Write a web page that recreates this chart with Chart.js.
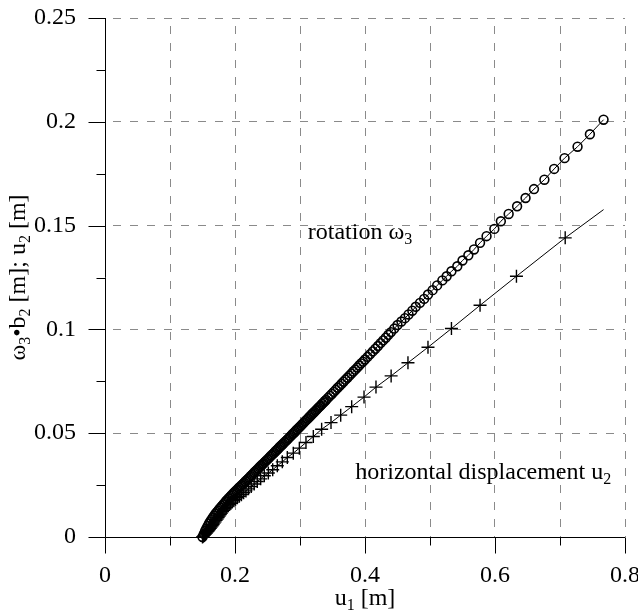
<!DOCTYPE html>
<html>
<head>
<meta charset="utf-8">
<script src="https://cdn.jsdelivr.net/npm/chart.js@4.4.0/dist/chart.umd.min.js"></script>
<style>
  body { margin: 0; background: #fff; }
</style>
</head>
<body>
<canvas id="myChart" width="638" height="611"></canvas>
<script>
// Rotation omega3*b2 vs u1 (circles)
var rotU = [
  0.150,0.152,0.154,0.156,0.158,0.160,0.162,0.164,0.166,0.168,
  0.170,0.172,0.174,0.176,0.178,0.180,0.182,0.184,0.186,0.188,
  0.190,0.192,0.194,0.196,0.198,0.200,0.202,0.204,0.206,0.208,
  0.210,0.212,0.214,0.216,0.218,0.220,0.222,0.224,0.226,0.228,
  0.230,0.232,0.234,0.236,0.238,0.240,0.242,0.244,0.246,0.248,
  0.250,0.252,0.254,0.256,0.258,0.260,0.262,0.264,0.266,0.268,
  0.270,0.272,0.274,0.276,0.278,0.280,0.282,0.284,0.286,0.288,
  0.290,0.292,0.294,0.296,0.298,0.300,0.302,0.304,0.306,0.308,
  0.310,0.312,0.314,0.316,0.318,0.320,0.322,0.324,0.326,0.328,
  0.330,0.332,0.334,0.336,0.338,0.340,
  0.343,0.346,0.349,0.352,0.355,0.358,0.361,0.364,0.367,0.370,
  0.373,0.376,0.379,0.382,0.385,0.388,0.391,0.394,0.397,0.400,
  0.404,0.408,0.412,0.416,0.420,0.424,0.428,0.432,0.436,0.440,0.445,
  0.450,0.456,0.4615,0.467,0.4728,0.478,0.4846,0.491,0.497,0.504,
  0.511,0.519,0.5256,0.533,0.542,0.550,0.559,0.5677,0.577,0.587,
  0.599,0.609,0.621,0.634,0.647,0.660,0.676,0.691,0.707,0.727,
  0.746,0.767
];
var rotV = [
  0.0000,0.0015,0.0029,0.0041,0.0053,0.0065,0.0075,0.0085,0.0094,0.0103,
  0.0112,0.0120,0.0127,0.0135,0.0142,0.0150,0.0157,0.0164,0.0172,0.0179,
  0.0186,0.0192,0.0199,0.0205,0.0212,0.0218,0.0224,0.0230,0.0237,0.0243,
  0.0249,0.0255,0.0261,0.0268,0.0274,0.0280,0.0286,0.0293,0.0299,0.0305,
  0.0312,0.0318,0.0324,0.0330,0.0337,0.0343,0.0349,0.0355,0.0362,0.0368,
  0.0374,0.0380,0.0387,0.0393,0.0399,0.0405,0.0412,0.0418,0.0424,0.0431,
  0.0437,0.0443,0.0449,0.0456,0.0462,0.0468,0.0474,0.0481,0.0487,0.0494,
  0.0500,0.0506,0.0513,0.0519,0.0526,0.0532,0.0538,0.0545,0.0551,0.0558,
  0.0564,0.0570,0.0577,0.0583,0.0590,0.0596,0.0602,0.0609,0.0615,0.0622,
  0.0628,0.0634,0.0641,0.0647,0.0654,0.0660,
  0.0670,0.0680,0.0689,0.0699,0.0709,0.0719,0.0728,0.0738,0.0748,0.0758,
  0.0767,0.0777,0.0787,0.0797,0.0806,0.0816,0.0826,0.0836,0.0845,0.0855,
  0.0868,0.0881,0.0894,0.0907,0.0920,0.0934,0.0947,0.0960,0.0974,0.0987,0.1004,
  0.1021,0.1038,0.1054,0.1072,0.1090,0.1109,0.1128,0.1147,0.1168,0.1189,
  0.1212,0.1236,0.1256,0.1280,0.1304,0.1332,0.1357,0.1385,0.1417,0.1449,
  0.1484,0.1521,0.1556,0.1593,0.1633,0.1676,0.1721,0.1773,0.1825,0.1880,
  0.1940,0.2010
];

// Horizontal displacement u2 vs u1 (crosses), last point is the line end only
var horU = [
  0.1500,0.1515,0.1530,0.1545,0.1560,0.1575,0.1590,0.1605,0.1620,0.1634,
  0.1649,0.1664,0.1679,0.1694,0.1709,0.1725,0.1741,0.1757,0.1774,0.1791,
  0.1809,0.1828,0.1847,0.1867,0.1888,0.1910,0.1933,0.1957,0.1982,0.2009,
  0.2037,0.2067,0.2099,0.2133,0.2169,0.2208,0.2250,0.2295,0.2343,0.2395,
  0.2451,0.2513,0.2580,0.2651,0.2728,0.2805,0.2897,0.2990,0.3092,0.3205,
  0.3333,0.3477,0.3626,0.3795,0.3985,0.4169,0.4402,0.4661,0.4969,0.5330,
  0.5770,0.6330,0.7080,0.7670
];
var horV = [
  0.0000,0.0004,0.0009,0.0014,0.0019,0.0025,0.0030,0.0036,0.0042,0.0048,
  0.0054,0.0060,0.0067,0.0073,0.0080,0.0087,0.0094,0.0101,0.0108,0.0115,
  0.0122,0.0129,0.0136,0.0143,0.0150,0.0156,0.0162,0.0168,0.0175,0.0182,
  0.0189,0.0196,0.0204,0.0213,0.0222,0.0232,0.0243,0.0255,0.0267,0.0280,
  0.0295,0.0308,0.0324,0.0343,0.0362,0.0383,0.0404,0.0428,0.0455,0.0484,
  0.0519,0.0551,0.0587,0.0628,0.0674,0.0722,0.0776,0.0839,0.0914,0.1004,
  0.1116,0.1256,0.1441,0.1577
];

// Tick labels
var xTickValues = [0, 0.2, 0.4, 0.6, 0.8];
var xTickLabels = ["0", "0.2", "0.4", "0.6", "0.8"];
var yTickLabels = ["0", "0.05", "0.1", "0.15", "0.2", "0.25"];

var serif = "'Liberation Serif', 'Times New Roman', serif";
var fontSize = 24;

function toPoints(us, vs) {
  return us.map(function (u, i) { return { x: u, y: vs[i] }; });
}

function xLabelIndex(value) {
  for (var i = 0; i < xTickValues.length; i++) {
    if (Math.abs(xTickValues[i] - value) < 1e-6) return i;
  }
  return -1;
}

// text with subscripts: parts = [[text, isSub], ...]
function partsWidth(ctx, parts, size) {
  var w = 0;
  parts.forEach(function (p) {
    ctx.font = (p[1] ? Math.round(size * 0.68) : size) + "px " + serif;
    w += ctx.measureText(p[0]).width;
  });
  return w;
}
function drawParts(ctx, parts, x, y, size) {
  parts.forEach(function (p) {
    ctx.font = (p[1] ? Math.round(size * 0.68) : size) + "px " + serif;
    ctx.fillText(p[0], x, p[1] ? y + size * 0.22 : y);
    x += ctx.measureText(p[0]).width;
  });
}

var notes = [
  { parts: [["rotation \u03c9"], ["3", 1]], u: 0.312, v: 0.1436 },
  { parts: [["horizontal displacement u"], ["2", 1]], u: 0.385, v: 0.0279 }
];
var yTitle = [["\u03c9"], ["3", 1], ["\u2022b"], ["2", 1], [" [m]; u"], ["2", 1], [" [m]"]];
var xTitle = [["u"], ["1", 1], [" [m]"]];

function gridColor(ctx) {
  return ctx.tick && Math.abs(ctx.tick.value) < 1e-9 ? "rgba(0,0,0,0)" : "#8a8a8a";
}

// keep the plot area where the layout puts it
function noPad(s) {
  s.paddingTop = 0; s.paddingBottom = 0; s.paddingLeft = 0; s.paddingRight = 0;
}

// axis lines, ticks, titles and labels
var framePlugin = {
  id: "frame",
  beforeDatasetsDraw: function (chart) {
    var ctx = chart.ctx, a = chart.chartArea;
    var xs = chart.scales.x, ys = chart.scales.y;
    var L = Math.round(a.left) + 0.5, B = Math.round(a.bottom) + 0.5;
    ctx.save();
    ctx.strokeStyle = "#000";
    ctx.lineWidth = 1;
    ctx.beginPath();
    ctx.moveTo(L, a.top); ctx.lineTo(L, B);
    ctx.moveTo(L, B); ctx.lineTo(a.right, B);
    xs.ticks.forEach(function (t) {
      var px = Math.round(xs.getPixelForValue(t.value)) + 0.5;
      var len = xLabelIndex(t.value) >= 0 ? 16 : 8;
      ctx.moveTo(px, B); ctx.lineTo(px, B + len);
    });
    ys.ticks.forEach(function (t, i) {
      var py = Math.round(ys.getPixelForValue(t.value)) + 0.5;
      ctx.moveTo(L - 17, py); ctx.lineTo(L, py);
      if (i > 0) {
        var pm = Math.round(ys.getPixelForValue((t.value + ys.ticks[i - 1].value) / 2)) + 0.5;
        ctx.moveTo(L - 9, pm); ctx.lineTo(L, pm);
      }
    });
    ctx.stroke();
    ctx.restore();
  },
  afterDraw: function (chart) {
    var ctx = chart.ctx, a = chart.chartArea;
    var xs = chart.scales.x, ys = chart.scales.y;
    ctx.save();
    ctx.fillStyle = "#000";
    ctx.textBaseline = "alphabetic";
    ctx.textAlign = "left";
    notes.forEach(function (n) {
      drawParts(ctx, n.parts, xs.getPixelForValue(n.u), ys.getPixelForValue(n.v), fontSize);
    });
    var w = partsWidth(ctx, xTitle, fontSize);
    drawParts(ctx, xTitle, (a.left + a.right) / 2 - w / 2, 605, fontSize);
    ctx.translate(25, (a.top + a.bottom) / 2);
    ctx.rotate(-Math.PI / 2);
    w = partsWidth(ctx, yTitle, fontSize);
    drawParts(ctx, yTitle, -w / 2, 0, fontSize);
    ctx.restore();
  }
};

var myChart = new Chart(document.getElementById("myChart").getContext("2d"), {
  type: "scatter",
  data: {
    datasets: [
      {
        label: "rotation",
        data: toPoints(rotU, rotV),
        showLine: true,
        borderColor: "#000",
        borderWidth: 1,
        pointStyle: "circle",
        pointRadius: 4.4,
        pointBorderWidth: 1.6,
        pointBorderColor: "#000",
        pointBackgroundColor: "rgba(0,0,0,0)",
        clip: false,
        order: 0
      },
      {
        label: "horizontal displacement",
        data: toPoints(horU, horV),
        showLine: true,
        borderColor: "#000",
        borderWidth: 1,
        pointStyle: "cross",
        pointRadius: function (c) { return c.dataIndex === horU.length - 1 ? 0 : 6.5; },
        pointBorderWidth: 1.4,
        pointBorderColor: "#000",
        clip: false,
        order: 1
      }
    ]
  },
  options: {
    responsive: false,
    devicePixelRatio: 1,
    animation: false,
    events: [],
    layout: { padding: { top: 18, right: 13, left: 0, bottom: 0 } },
    plugins: { legend: { display: false }, tooltip: { enabled: false } },
    scales: {
      x: {
        type: "linear",
        min: 0,
        max: 0.8,
        afterFit: function (s) { s.height = 74; noPad(s); },
        ticks: {
          stepSize: 0.1,
          autoSkip: false,
          maxRotation: 0,
          padding: 24,
          color: "#000",
          font: { family: serif, size: fontSize },
          callback: function (value) {
            var i = xLabelIndex(value);
            return i >= 0 ? xTickLabels[i] : "";
          }
        },
        grid: { color: gridColor, lineWidth: 1, drawTicks: false },
        border: { display: false, dash: [8, 9], dashOffset: 9 }
      },
      y: {
        type: "linear",
        min: 0,
        max: 0.25,
        afterFit: function (s) { s.width = 105; noPad(s); },
        ticks: {
          stepSize: 0.05,
          padding: 29,
          color: "#000",
          font: { family: serif, size: fontSize },
          callback: function (value, index) { return yTickLabels[index]; }
        },
        grid: { color: gridColor, lineWidth: 1, drawTicks: false },
        border: { display: false, dash: [8, 9], dashOffset: 9 }
      }
    }
  },
  plugins: [framePlugin]
});
</script>
</body>
</html>
